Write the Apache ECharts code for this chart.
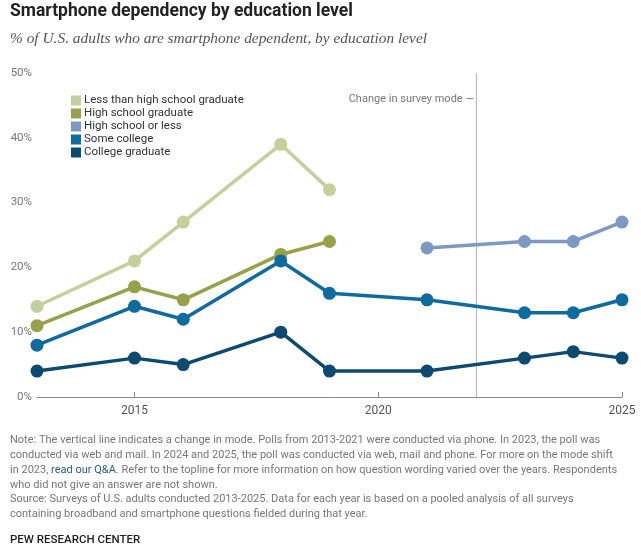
<!DOCTYPE html>
<html lang="en">
<head>
<meta charset="UTF-8">
<title>Smartphone dependency by education level</title>
<script src="https://cdn.jsdelivr.net/npm/echarts@6/dist/echarts.min.js"></script>
<style>
  html, body { margin: 0; padding: 0; background: #fff; }
  #chart { width: 641px; height: 550px; }
</style>
</head>
<body>
<div id="chart"></div>
<script>
// data
var lessHsYears = [2013, 2015, 2016, 2018, 2019];
var lessHsValues = [14, 21, 27, 39, 32];
var hsGradYears = [2013, 2015, 2016, 2018, 2019];
var hsGradValues = [11, 17, 15, 22, 24];
var hsOrLessYears = [2021, 2023, 2024, 2025];
var hsOrLessValues = [23, 24, 24, 27];
var collegeYears = [2013, 2015, 2016, 2018, 2019, 2021, 2023, 2024, 2025];
var someCollegeValues = [8, 14, 12, 21, 16, 15, 13, 13, 15];
var collegeGradValues = [4, 6, 5, 10, 4, 4, 6, 7, 6];
var xTicks = [2015, 2020, 2025];
var modeChangeYear = 2022;

var noteLines = [
  'Note: The vertical line indicates a change in mode. Polls from 2013-2021 were conducted via phone. In 2023, the poll was',
  'conducted via web and mail. In 2024 and 2025, the poll was conducted via web, mail and phone. For more on the mode shift',
  'in 2023, {link|read our Q&A}. Refer to the topline for more information on how question wording varied over the years. Respondents',
  'who did not give an answer are not shown.',
  'Source: Surveys of U.S. adults conducted 2013-2025. Data for each year is based on a pooled analysis of all surveys',
  'containing broadband and smartphone questions fielded during that year.'
];

function pairs(xs, ys) {
  return xs.map(function (x, i) { return [x, ys[i]]; });
}

var font = 'Roboto, "Liberation Sans", sans-serif';

function lineSeries(name, color, data) {
  return {
    name: name,
    type: 'line',
    data: data,
    symbol: 'circle',
    symbolSize: 13,
    lineStyle: { color: color, width: 3.5 },
    itemStyle: { color: color },
    emphasis: { disabled: true },
    z: 3
  };
}

var chart = echarts.init(document.getElementById('chart'));

var graphics = [
  { type: 'text', left: 10, top: 3, style: { text: 'Smartphone dependency by education level', font: 'bold 17.5px ' + font, fill: '#222' } },
  { type: 'text', left: 10, top: 31, style: { text: '% of U.S. adults who are smartphone dependent, by education level', font: 'italic 15.4px "Liberation Serif", Georgia, serif', fill: '#555' } },
  { type: 'text', right: 641 - 474, top: 94, style: { text: 'Change in survey mode \u2014', font: '11px ' + font, fill: '#777', align: 'right' } },
  { type: 'text', left: 10, top: 534, style: { text: 'PEW RESEARCH CENTER', font: '500 11.5px ' + font, fill: '#222' } }
];
noteLines.forEach(function (t, i) {
  graphics.push({
    type: 'text', left: 10, top: 435 + i * 14.8,
    style: {
      text: t, fontSize: 11, fontFamily: font, fill: '#777',
      rich: { link: { fontSize: 11, fontFamily: font, fill: '#2a5d8f' } }
    }
  });
});

var option = {
  animation: false,
  grid: { left: 37, right: 19, top: 73, bottom: 153 },
  legend: {
    orient: 'vertical',
    left: 66,
    top: 89,
    itemWidth: 10,
    itemHeight: 10,
    itemGap: 0,
    icon: 'rect',
    selectedMode: false,
    textStyle: { fontSize: 11.5, fontFamily: font, color: '#333', padding: [0, 0, 0, -2], lineHeight: 13 },
    data: ['Less than high school graduate', 'High school graduate', 'High school or less', 'Some college', 'College graduate']
  },
  xAxis: {
    type: 'value',
    min: 2013,
    max: 2025,
    interval: 1,
    axisLine: { lineStyle: { color: '#888', width: 1 } },
    axisTick: { show: true, customValues: xTicks, length: 5, inside: true, lineStyle: { color: '#888' } },
    axisLabel: { customValues: xTicks, formatter: function (v) { return String(v); }, color: '#555', fontSize: 12, fontFamily: font, margin: 8 },
    splitLine: { show: false }
  },
  yAxis: {
    type: 'value',
    min: 0,
    max: 50,
    interval: 10,
    axisLine: { show: false },
    axisTick: { show: false },
    axisLabel: { formatter: '{value}%', color: '#777', fontSize: 11.5, fontFamily: font, margin: 5 },
    splitLine: { show: false }
  },
  graphic: graphics,
  series: [
    lineSeries('Less than high school graduate', '#c4d09c', pairs(lessHsYears, lessHsValues)),
    lineSeries('High school graduate', '#95a24a', pairs(hsGradYears, hsGradValues)),
    lineSeries('High school or less', '#7d98c3', pairs(hsOrLessYears, hsOrLessValues)),
    lineSeries('Some college', '#0d6b9f', pairs(collegeYears, someCollegeValues)),
    Object.assign(lineSeries('College graduate', '#0c4a72', pairs(collegeYears, collegeGradValues)), {
      markLine: {
        silent: true,
        symbol: 'none',
        label: { show: false },
        lineStyle: { color: '#bbb', width: 1.2, type: 'solid' },
        data: [{ xAxis: modeChangeYear }],
        z: 1
      }
    })
  ]
};

chart.setOption(option);
</script>
</body>
</html>
